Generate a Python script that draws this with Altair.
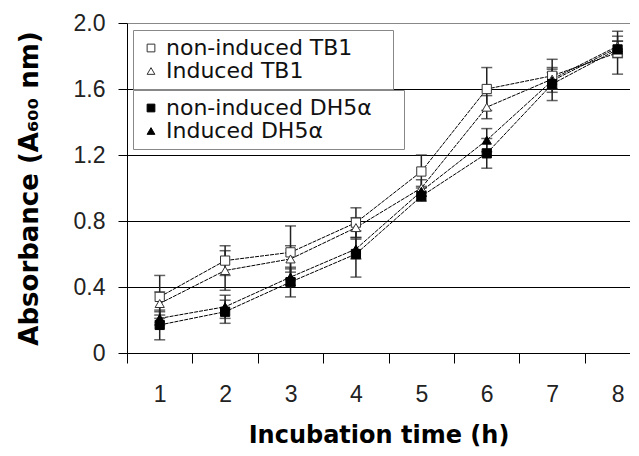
import altair as alt
import pandas as pd

hours = [1, 2, 3, 4, 5, 6, 7, 8]
series_names = ["non-induced TB1", "Induced TB1", "non-induced DH5α", "Induced DH5α"]
non_tb1 = [0.34, 0.56, 0.61, 0.79, 1.10, 1.60, 1.68, 1.82]
ind_tb1 = [0.30, 0.50, 0.57, 0.76, 1.00, 1.49, 1.66, 1.86]
non_dh = [0.17, 0.25, 0.43, 0.60, 0.95, 1.21, 1.63, 1.84]
ind_dh = [0.21, 0.28, 0.46, 0.63, 0.98, 1.29, 1.65, 1.85]
err_non_tb1 = [0.13, 0.09, 0.16, 0.09, 0.10, 0.13, 0.10, 0.13]
err_ind_tb1 = [0.07, 0.12, 0.08, 0.06, 0.05, 0.07, 0.06, 0.06]
err_non_dh = [0.09, 0.07, 0.09, 0.14, 0.03, 0.09, 0.10, 0.05]
err_ind_dh = [0.04, 0.07, 0.05, 0.06, 0.03, 0.07, 0.05, 0.04]
y_ticks = [0, 0.4, 0.8, 1.2, 1.6, 2.0]

rows = []
for name, vals, errs in zip(series_names,
                            [non_tb1, ind_tb1, non_dh, ind_dh],
                            [err_non_tb1, err_ind_tb1, err_non_dh, err_ind_dh]):
    for h, v, e in zip(hours, vals, errs):
        rows.append({"time": h, "series": name, "mean": v, "lo": v - e, "hi": v + e})
df = pd.DataFrame(rows)

TICK_FONT = "Liberation Sans"
TITLE_FONT = "DejaVu Sans"
LEGEND_FONT = "DejaVu Sans"

PLOT_W = 503
X_MIN, X_MAX = 0.5, 8.19
HALF_STEP = PLOT_W / (X_MAX - X_MIN) / 2

x_enc = alt.X(
    "time:Q",
    scale=alt.Scale(domain=[X_MIN, X_MAX], nice=False, zero=False),
    axis=alt.Axis(
        title="Incubation time  (h)",
        values=hours,
        format="d",
        tickOffset=-HALF_STEP,
        labelOffset=HALF_STEP,
        labelOverlap=False,
        labelFlush=False,
        tickSize=10,
        labelPadding=20,
        titlePadding=17,
        titleFontSize=24,
        grid=False,
    ),
)
y_enc = alt.Y(
    "mean:Q",
    scale=alt.Scale(domain=[0, 2.0], nice=False),
    axis=alt.Axis(
        title="Absorbance  (A₆₀₀  nm)",
        values=y_ticks,
        labelExpr="datum.value == 0 ? '0' : format(datum.value, '.1f')",
        tickSize=9,
        labelPadding=13,
        titlePadding=31,
        titleFontSize=26,
        grid=True,
        gridColor={"condition": {"test": "datum.value == 2", "value": "#888888"}, "value": "#000000"},
    ),
)

base = alt.Chart(df)

lines = base.mark_line(color="black", strokeWidth=1, strokeDash=[4, 1]).encode(
    x=x_enc, y=y_enc, detail="series:N"
)
err_rule = base.mark_rule(color="#222", strokeWidth=1.5).encode(
    x="time:Q", y="lo:Q", y2="hi:Q"
)
cap_lo = base.mark_tick(color="#222", orient="horizontal", size=11, thickness=1.5).encode(
    x="time:Q", y="lo:Q"
)
cap_hi = base.mark_tick(color="#222", orient="horizontal", size=11, thickness=1.5).encode(
    x="time:Q", y="hi:Q"
)


def make_legend(y, spacer):
    # the (invisible) title only widens the legend box to the reference's size
    return alt.Legend(
        title=spacer,
        titleOrient="right",
        titleFontSize=10,
        titleOpacity=0,
        titlePadding=0,
        titleLimit=400,
        orient="none",
        legendX=6,
        legendY=y,
        fillColor="white",
        strokeColor="#888888",
        padding=7,
        rowPadding=1,
        labelFont=LEGEND_FONT,
        labelFontSize=22,
        labelColor="#111",
        symbolSize=60,
        symbolStrokeWidth=1,
        labelLimit=500,
    )


tb1_names = series_names[:2]
dh_names = series_names[2:]

pts_tb1 = base.transform_filter(
    alt.FieldOneOfPredicate(field="series", oneOf=tb1_names)
).mark_point(filled=False, fill="white", strokeWidth=1, size=85, opacity=1).encode(
    x="time:Q",
    y="mean:Q",
    shape=alt.Shape(
        "series:N",
        scale=alt.Scale(domain=tb1_names, range=["square", "triangle-up"]),
        legend=make_legend(7, "MMMM"),
    ),
    stroke=alt.Stroke(
        "series:N",
        scale=alt.Scale(domain=tb1_names, range=["#333333", "#333333"]),
        legend=make_legend(7, "MMMM"),
    ),
)
pts_dh = base.transform_filter(
    alt.FieldOneOfPredicate(field="series", oneOf=dh_names)
).mark_point(filled=True, fill="black", stroke="black", strokeWidth=1, size=85, opacity=1).encode(
    x="time:Q",
    y="mean:Q",
    shape=alt.Shape(
        "series:N",
        scale=alt.Scale(domain=dh_names, range=["square", "triangle-up"]),
        legend=make_legend(67, "MMM"),
    ),
)

chart = alt.layer(lines, err_rule, cap_lo, cap_hi, pts_tb1, pts_dh).resolve_scale(
    shape="independent", stroke="independent"
).properties(
    width=PLOT_W,
    height=330,
    padding={"left": 8, "top": 4, "right": 0, "bottom": 0},
).configure_view(
    stroke=None
).configure_axis(
    domainColor="black",
    tickColor="black",
    labelFont=TICK_FONT,
    labelFontSize=23,
    labelColor="#222",
    titleFont=TITLE_FONT,
    titleFontWeight="bold",
    titleColor="black",
)

chart.save("out.html", embed_options={"renderer": "svg", "actions": False})
